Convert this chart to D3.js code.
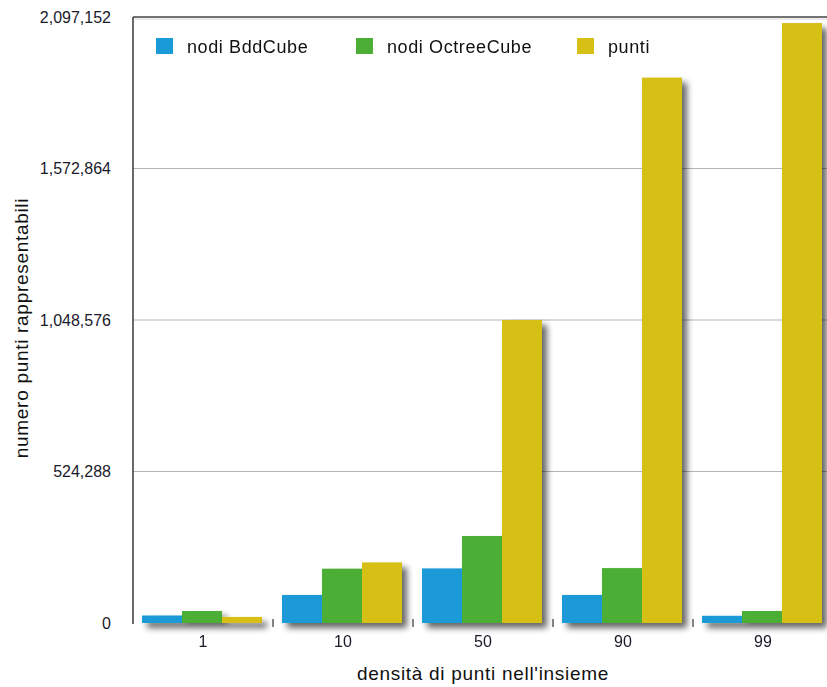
<!DOCTYPE html>
<html>
<head>
<meta charset="utf-8">
<script src="https://cdn.jsdelivr.net/npm/d3@7/dist/d3.min.js"></script>
<style>
  html, body { margin: 0; padding: 0; background: #fff; }
  svg { display: block; font-family: "Liberation Sans", Arial, Helvetica, sans-serif; }
</style>
</head>
<body>
<svg id="chart" width="827" height="687"></svg>
<script>
// Densità (%) of points in the set
const categories = ["1", "10", "50", "90", "99"];
const seriesNames = ["nodi BddCube", "nodi OctreeCube", "punti"];
const nodiBddCube = [26000, 97000, 189000, 97000, 25000];
const nodiOctreeCube = [41500, 188000, 301000, 190000, 41500];
const punti = [20972, 209715, 1048576, 1887437, 2076180];
const yTicks = [0, 524288, 1048576, 1572864, 2097152];
const colors = ["#1b9ad8", "#4cae34", "#d6c015"];

const seriesValues = [nodiBddCube, nodiOctreeCube, punti];
const rows = categories.map((c, i) => ({
  cat: c,
  vals: seriesNames.map((s, j) => ({ key: s, value: seriesValues[j][i], idx: j }))
}));

const svg = d3.select("#chart");
const plotL = 133, plotR = 833, plotT = 17, plotB = 623;

const x0 = d3.scaleBand().domain(categories).range([plotL, plotR]).padding(0);
const x1 = d3.scaleBand().domain(seriesNames).range([9, 129]).padding(0);
const y = d3.scaleLinear().domain([0, 2097152]).range([plotB, plotT]);

// drop shadow for bars and baseline
const defs = svg.append("defs");
const f = defs.append("filter").attr("id", "shadow")
  .attr("x", "-20%").attr("y", "-10%").attr("width", "160%").attr("height", "140%");
f.append("feGaussianBlur").attr("in", "SourceAlpha").attr("stdDeviation", 3).attr("result", "b");
f.append("feOffset").attr("in", "b").attr("dx", 5).attr("dy", 5).attr("result", "o");
f.append("feComponentTransfer").attr("in", "o").attr("result", "s")
  .append("feFuncA").attr("type", "linear").attr("slope", 0.6);
const m = f.append("feMerge");
m.append("feMergeNode").attr("in", "s");
m.append("feMergeNode").attr("in", "SourceGraphic");

// horizontal grid lines
svg.append("g")
  .selectAll("line").data(yTicks.filter(t => t > 0 && t < 2097152)).join("line")
  .attr("x1", plotL).attr("x2", 827)
  .attr("y1", d => y(d)).attr("y2", d => y(d))
  .attr("stroke", "#b5b5b5").attr("stroke-width", 1.2);

// top frame line
svg.append("line")
  .attr("x1", plotL).attr("x2", 827).attr("y1", y(2097152)).attr("y2", y(2097152))
  .attr("stroke", "#444").attr("stroke-width", 1.6);
svg.append("line")
  .attr("x1", plotL).attr("x2", 827).attr("y1", y(2097152) + 2).attr("y2", y(2097152) + 2)
  .attr("stroke", "#d8d8d8").attr("stroke-width", 1);

// y axis labels
const yAxis = d3.axisLeft(y).tickValues(yTicks).tickSize(0).tickPadding(22)
  .tickFormat(d3.format(","));
const gy = svg.append("g").attr("transform", `translate(${plotL},0)`).call(yAxis);
gy.select(".domain").remove();
gy.selectAll("text").attr("font-size", 16).attr("fill", "#1a1a2a")
  .attr("font-family", "'Liberation Sans', Arial, sans-serif");

// bars
const barG = svg.append("g").attr("filter", "url(#shadow)");
barG.selectAll("g").data(rows).join("g")
  .attr("transform", d => `translate(${x0(d.cat)},0)`)
  .selectAll("rect").data(d => d.vals).join("rect")
  .attr("x", d => x1(d.key))
  .attr("width", x1.bandwidth())
  .attr("y", d => y(d.value))
  .attr("height", d => y(0) - y(d.value))
  .attr("fill", d => colors[d.idx]);

// x axis baseline with shadow
const xAxisG = svg.append("g");
xAxisG.append("line")
  .attr("x1", plotL).attr("x2", 827).attr("y1", plotB).attr("y2", plotB)
  .attr("stroke", "#333").attr("stroke-width", 1.5)
  .attr("filter", "url(#shadow)");
const bounds = categories.map(c => x0(c)).concat([x0(categories[4]) + x0.bandwidth()]);
xAxisG.selectAll(".tk").data(bounds.slice(1)).join("line").attr("class", "tk")
  .attr("x1", d => d).attr("x2", d => d)
  .attr("y1", plotB - 4).attr("y2", plotB + 4)
  .attr("stroke", "#333").attr("stroke-width", 1.2);

// left axis line
svg.append("line")
  .attr("x1", plotL).attr("x2", plotL).attr("y1", plotT).attr("y2", plotB + 1)
  .attr("stroke", "#444").attr("stroke-width", 1.6);

// category labels
const xAxis = d3.axisBottom(x0).tickSize(0).tickPadding(13);
const gx = svg.append("g").attr("transform", `translate(0,${plotB})`).call(xAxis);
gx.select(".domain").remove();
gx.selectAll("text").attr("font-size", 16).attr("fill", "#1a1a2a")
  .attr("font-family", "'Liberation Sans', Arial, sans-serif");

// axis titles
svg.append("text")
  .attr("x", (plotL + plotR) / 2).attr("y", 680)
  .attr("text-anchor", "middle").attr("font-size", 19).attr("letter-spacing", 0.7)
  .attr("fill", "#111").text("densità di punti nell'insieme");
svg.append("text")
  .attr("transform", `translate(28,${(plotT + plotB) / 2 + 8}) rotate(-90)`)
  .attr("text-anchor", "middle").attr("font-size", 19).attr("letter-spacing", 0.7)
  .attr("fill", "#111").text("numero punti rappresentabili");

// legend
const legendX = [156, 356, 577];
const lg = svg.append("g").selectAll("g").data(seriesNames).join("g")
  .attr("transform", (d, i) => `translate(${legendX[i]},38)`);
lg.append("rect").attr("width", 17).attr("height", 16).attr("fill", (d, i) => colors[i]);
lg.append("text").attr("x", 31).attr("y", 14.5)
  .attr("font-size", 18).attr("letter-spacing", 0.6).attr("fill", "#111").text(d => d);
</script>
</body>
</html>
